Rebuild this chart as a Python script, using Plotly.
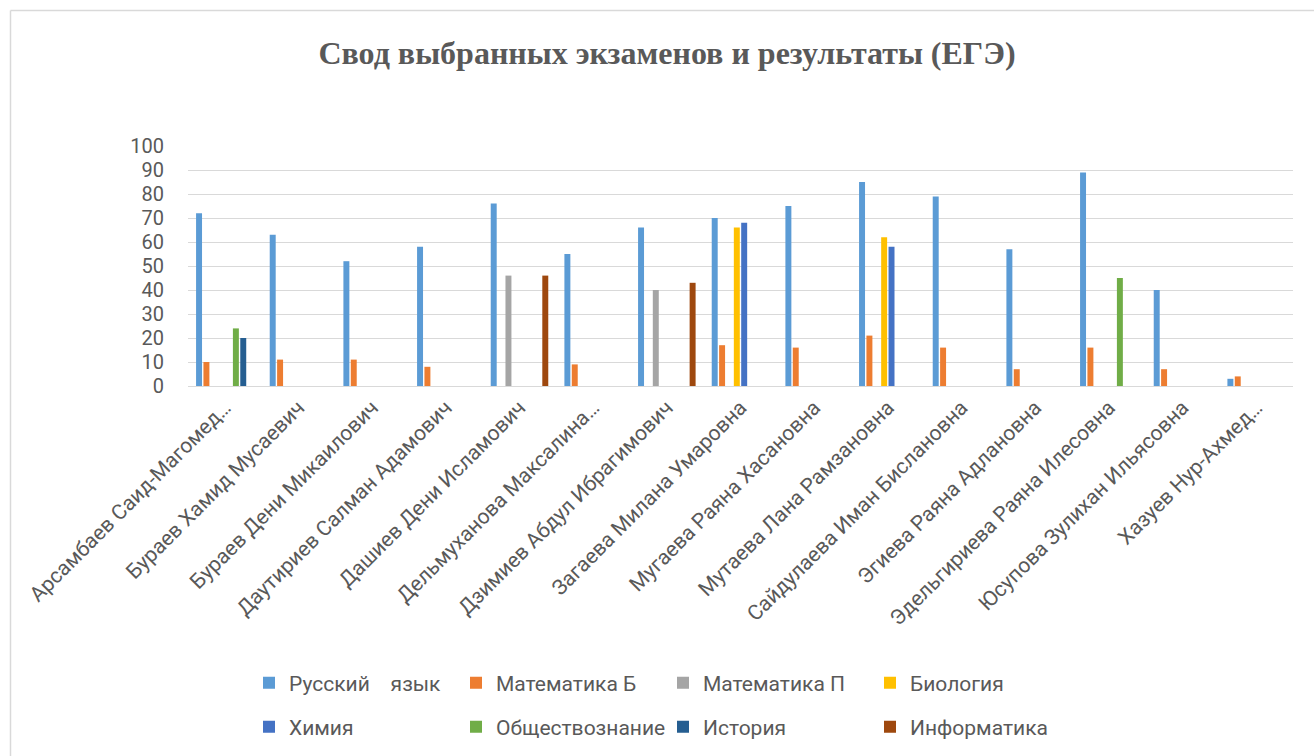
import plotly.graph_objects as go

students = [
    "Арсамбаев Саид-Магомед…",
    "Бураев Хамид Мусаевич",
    "Бураев Дени Микаилович",
    "Даутириев Салман Адамович",
    "Дашиев Дени Исламович",
    "Дельмуханова Максалина…",
    "Дзимиев Абдул Ибрагимович",
    "Загаева Милана Умаровна",
    "Мугаева Раяна Хасановна",
    "Мутаева Лана Рамзановна",
    "Сайдулаева Иман Бислановна",
    "Эгиева Раяна Адлановна",
    "Эдельгириева Раяна Илесовна",
    "Юсупова Зулихан Ильясовна",
    "Хазуев Нур-Ахмед…",
]

russian = [72, 63, 52, 58, 76, 55, 66, 70, 75, 85, 79, 57, 89, 40, 3]
math_b = [10, 11, 11, 8, None, 9, None, 17, 16, 21, 16, 7, 16, 7, 4]
math_p = [None, None, None, None, 46, None, 40, None, None, None, None, None, None, None, None]
biology = [None, None, None, None, None, None, None, 66, None, 62, None, None, None, None, None]
chemistry = [None, None, None, None, None, None, None, 68, None, 58, None, None, None, None, None]
social = [24, None, None, None, None, None, None, None, None, None, None, None, 45, None, None]
history = [20, None, None, None, None, None, None, None, None, None, None, None, None, None, None]
informatics = [None, None, None, None, 46, None, 43, None, None, None, None, None, None, None, None]

series_names = ["Русский \u00a0\u00a0 язык", "Математика Б", "Математика П", "Биология",
                "Химия", "Обществознание", "История", "Информатика"]
series_values = [russian, math_b, math_p, biology, chemistry, social, history, informatics]
series_colors = ["#5B9BD5", "#ED7D31", "#A5A5A5", "#FFC000",
                 "#4472C4", "#70AD47", "#255E91", "#9E480E"]
series_legend = ["legend", "legend", "legend", "legend",
                 "legend2", "legend2", "legend2", "legend2"]

y_ticks = [0, 10, 20, 30, 40, 50, 60, 70, 80, 90, 100]

TXT = "#595959"
GRID = "#D9D9D9"
FONT = "Roboto"

fig = go.Figure()
for name, vals, col, lg in zip(series_names, series_values, series_colors, series_legend):
    fig.add_trace(go.Bar(
        x=students, y=vals, name=name, legend=lg,
        marker=dict(color=col, line=dict(width=0)),
    ))

# pixel -> paper helpers (plot area: x 188..1293, y 146..386)
L, R, T, B = 188, 1293, 146, 386
def px(X):
    return (X - L) / (R - L)
def py(Y):
    return (B - Y) / (B - T)

legend_common = dict(
    orientation="h", xanchor="left", yanchor="middle",
    font=dict(family=FONT, size=21, color=TXT),
    entrywidth=162, entrywidthmode="pixels",
    bgcolor="rgba(0,0,0,0)", itemclick=False, itemdoubleclick=False,
    traceorder="normal",
)

fig.update_layout(
    width=1314, height=756,
    margin=dict(l=L, r=1314 - R, t=T, b=756 - B, autoexpand=False),
    paper_bgcolor="white", plot_bgcolor="white",
    barmode="group", bargap=0.2, bargroupgap=0.19,
    title=dict(
        text="<b>Свод выбранных экзаменов и результаты (ЕГЭ)</b>",
        x=667 / 1314, xanchor="center", xref="container",
        y=1 - 53 / 756, yanchor="middle", yref="container",
        font=dict(family="Liberation Serif", size=32, color=TXT),
    ),
    xaxis=dict(
        type="category", tickangle=-45, showgrid=False, automargin=False,
        showline=True, linecolor=GRID, linewidth=1, ticks="",
        tickfont=dict(family=FONT, size=21, color=TXT),
    ),
    yaxis=dict(
        range=[0, 100], tickvals=y_ticks, showgrid=True, gridcolor=GRID,
        gridwidth=1, zeroline=False, showline=False, ticks="", automargin=False,
        tickfont=dict(family=FONT, size=20, color=TXT),
        ticklabelstandoff=23,
    ),
    legend=dict(x=px(249), y=py(683), **legend_common),
    legend2=dict(x=px(249), y=py(727), **legend_common),
    shapes=[
        dict(type="line", xref="paper", yref="paper",
             x0=px(10.5), x1=px(1330), y0=py(10.5), y1=py(10.5),
             line=dict(color=GRID, width=1.5)),
        dict(type="line", xref="paper", yref="paper",
             x0=px(10.5), x1=px(10.5), y0=py(10.5), y1=py(770),
             line=dict(color=GRID, width=1.5)),
    ],
)

fig.write_html(
    "out.html",
    config={"displayModeBar": False},
    post_script="document.body.style.margin='0';document.body.style.overflow='hidden';",
)
